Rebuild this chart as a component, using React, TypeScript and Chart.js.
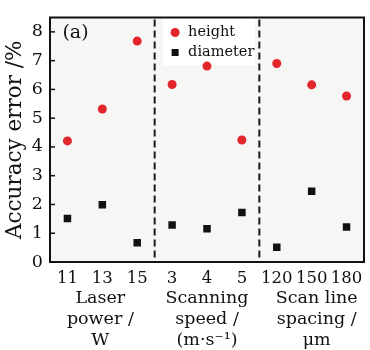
import React, { useEffect, useRef } from "react";
import { Chart, registerables } from "chart.js";

Chart.register(...registerables);

const categories = ["11", "13", "15", "3", "4", "5", "120", "150", "180"];
const heightValues = [4.21, 5.32, 7.68, 6.17, 6.81, 4.24, 6.9, 6.16, 5.77];
const diameterValues = [1.51, 1.99, 0.67, 1.29, 1.16, 1.72, 0.51, 2.46, 1.22];
const yTicks = [0, 1, 2, 3, 4, 5, 6, 7, 8];
const groupLabels = [
  { center: 1, lines: ["Laser", "power /", "W"] },
  { center: 4, lines: ["Scanning", "speed /", "(m\u00b7s\u207b\u00b9)"] },
  { center: 7, lines: ["Scan line", "spacing /", "\u03bcm"] },
];
const separators = [2.5, 5.5];
const seriesNames = ["height", "diameter"];
const panelLabel = "(a)";

const FONT = "'DejaVu Serif', serif";

const decorPlugin = {
  id: "decor",
  beforeDatasetsDraw(chart: any) {
    const { ctx, chartArea } = chart;
    const { left, right, top, bottom } = chartArea;
    ctx.save();
    ctx.fillStyle = "#f6f6f4";
    ctx.fillRect(left, top, right - left, bottom - top);
    const xs = chart.scales.x;
    ctx.strokeStyle = "#1a1a1a";
    ctx.lineWidth = 2;
    ctx.setLineDash([7, 4]);
    separators.forEach((s) => {
      const a = xs.getPixelForValue(Math.floor(s));
      const b = xs.getPixelForValue(Math.ceil(s));
      const x = (a + b) / 2;
      ctx.beginPath();
      ctx.moveTo(x, top + 2);
      ctx.lineTo(x, bottom);
      ctx.stroke();
    });
    ctx.setLineDash([]);
    const lx = xs.getPixelForValue(3) - 9;
    const ly = top + 1;
    ctx.fillStyle = "#ffffff";
    ctx.fillRect(lx, ly, 92, 47);
    ctx.restore();
  },
  afterDraw(chart: any) {
    const { ctx, chartArea } = chart;
    const { left, right, top, bottom } = chartArea;
    const xs = chart.scales.x;
    const ys = chart.scales.y;
    ctx.save();
    ctx.strokeStyle = "#111";
    ctx.lineWidth = 2;
    ctx.strokeRect(left, top, right - left, bottom - top);
    ctx.lineWidth = 1.5;
    yTicks.forEach((v) => {
      const y = ys.getPixelForValue(v);
      ctx.beginPath();
      ctx.moveTo(left, y);
      ctx.lineTo(left + 5, y);
      ctx.stroke();
    });
    ctx.fillStyle = "#111";
    ctx.font = "17.5px " + FONT;
    ctx.textAlign = "center";
    ctx.textBaseline = "middle";
    groupLabels.forEach((g, gi) => {
      const x = xs.getPixelForValue(g.center) + (gi === 2 ? 5 : gi === 0 ? -2 : 0);
      g.lines.forEach((line, i) => {
        ctx.fillText(line, x, bottom + 36 + i * 21);
      });
    });
    ctx.textAlign = "left";
    ctx.font = "19px " + FONT;
    ctx.fillText(panelLabel, xs.getPixelForValue(0) - 5, top + 16);
    const lx = xs.getPixelForValue(3) - 9;
    const ly = top + 1;
    ctx.font = "14.5px " + FONT;
    ctx.fillStyle = "#e3262b";
    ctx.beginPath();
    ctx.arc(lx + 12, ly + 14, 4.5, 0, Math.PI * 2);
    ctx.fill();
    ctx.fillStyle = "#111";
    ctx.fillRect(lx + 8.5, ly + 30.5, 7, 7);
    ctx.fillText(seriesNames[0], lx + 25, ly + 14);
    ctx.fillText(seriesNames[1], lx + 25, ly + 34);
    ctx.restore();
  },
};

export default function App() {
  const ref = useRef<HTMLCanvasElement>(null);
  useEffect(() => {
    if (!ref.current) return;
    const chart = new Chart(ref.current, {
      type: "line",
      data: {
        labels: categories,
        datasets: [
          {
            label: seriesNames[0],
            data: heightValues,
            showLine: false,
            pointStyle: "circle",
            pointRadius: 4.5,
            pointBackgroundColor: "#e3262b",
            pointBorderColor: "#e3262b",
            pointBorderWidth: 0,
          },
          {
            label: seriesNames[1],
            data: diameterValues,
            showLine: false,
            pointStyle: "rect",
            pointRadius: 5.3,
            pointBackgroundColor: "#111",
            pointBorderColor: "#111",
            pointBorderWidth: 0,
          },
        ],
      },
      options: {
        responsive: false,
        animation: false,
        layout: { padding: { top: 11, right: 6, left: 0, bottom: 0 } },
        plugins: { legend: { display: false }, tooltip: { enabled: false } },
        scales: {
          x: {
            type: "category",
            offset: true,
            grid: { display: false, drawTicks: false },
            border: { display: false },
            ticks: {
              padding: 7,
              color: "#111",
              font: { family: FONT, size: 16.5 },
              maxRotation: 0,
              autoSkip: false,
            },
            afterFit: (s: any) => {
              s.height = 88;
            },
          },
          y: {
            min: 0,
            max: 8.5,
            grid: { display: false, drawTicks: false },
            border: { display: false },
            ticks: {
              stepSize: 1,
              padding: 7,
              color: "#111",
              font: { family: FONT, size: 17.5 },
            },
            afterBuildTicks: (s: any) => {
              s.ticks = yTicks.map((v) => ({ value: v }));
            },
            title: {
              display: true,
              text: "Accuracy error /%",
              color: "#111",
              font: { family: FONT, size: 21.5 },
              padding: { top: 3, bottom: 0 },
            },
            afterFit: (s: any) => {
              s.width = 50;
            },
          },
        },
      },
      plugins: [decorPlugin],
    } as any);
    return () => chart.destroy();
  }, []);
  return (
    <div style={{ position: "absolute", left: 0, top: 0, width: 370, height: 350, background: "#fff" }}>
      <canvas ref={ref} width={370} height={350} />
    </div>
  );
}
